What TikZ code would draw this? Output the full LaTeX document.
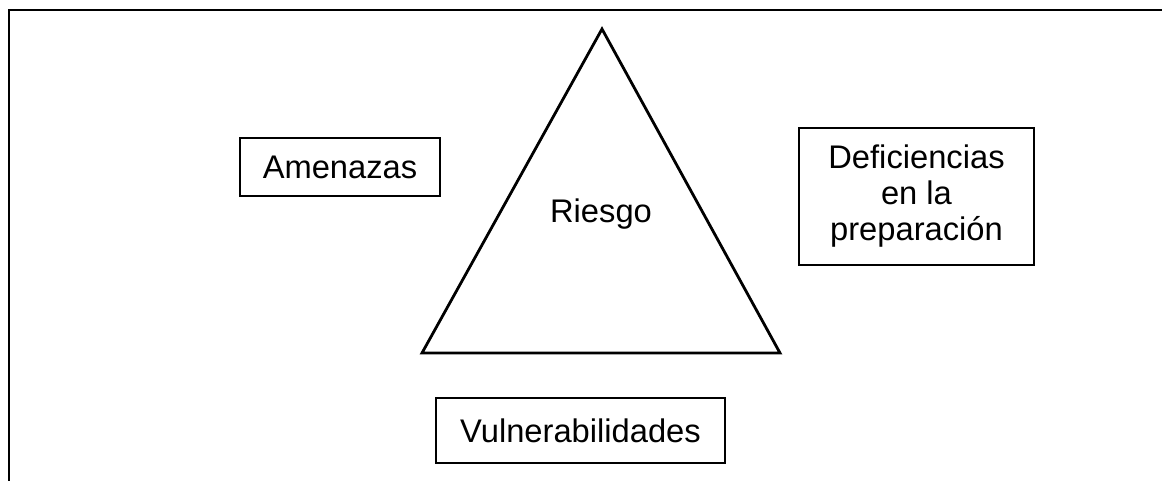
\documentclass[tikz,border=0pt]{standalone}
\usepackage{fontspec}
\setmainfont{Liberation Sans}
\usepackage{tikz}

\tikzset{
  caja/.style={draw, line width=2.2pt, inner sep=0pt, align=center,
    font=\fontsize{32.7}{36}\selectfont},
  texto/.style={font=\fontsize{32.7}{36}\selectfont}
}

\begin{document}
\begin{tikzpicture}[x=1pt,y=-1pt]
      \useasboundingbox (0,0) rectangle (1162,480);
      \clip (0,0) rectangle (1162,480);
      \draw[line width=2.4pt] (1170,10) -- (9,10) -- (9,490);

      \coordinate (t1) at (602,29);
      \coordinate (t2) at (422,353);
      \coordinate (t3) at (780,353);
      \draw[line width=2.8pt,line join=miter] (t1) -- (t2) -- (t3) -- cycle;

      \node[texto,anchor=base] (1) at (601,222) {Riesgo};
      \node[caja,minimum width=200pt,minimum height=58pt] (2) at (340,167) {Amenazas};
      \node[caja,minimum width=235pt,minimum height=137pt] (3) at (916.5,196.5) {Deficiencias\\en la\\preparación};
      %% \node[caja] (4) below of=1 ...
      \node[caja,minimum width=289pt,minimum height=65pt] (4) at (580.5,430.5) {Vulnerabilidades};
    \end{tikzpicture}
\end{document}
